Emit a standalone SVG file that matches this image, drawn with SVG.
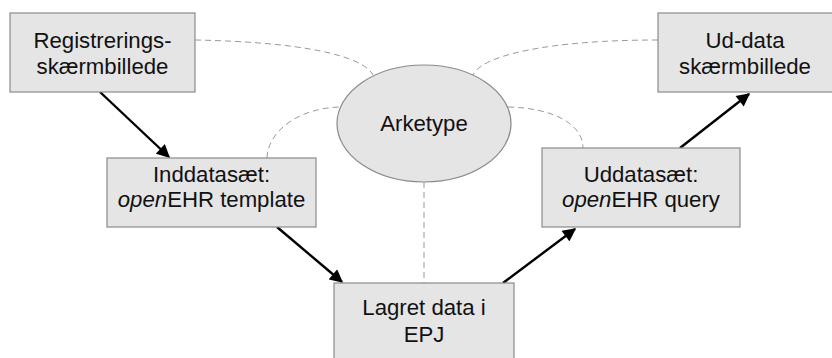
<svg xmlns="http://www.w3.org/2000/svg" width="832" height="358" viewBox="0 0 832 358">
<defs>
<style>
.box{fill:#e5e5e5;stroke:#8a8a8a;stroke-width:1.2}
.t{font-family:"Liberation Sans",Arial,sans-serif;font-size:22.2px;fill:#111;text-anchor:middle}
.d{fill:none;stroke:#9a9a9a;stroke-width:1;stroke-dasharray:6,4}
.a{fill:none;stroke:#000;stroke-width:2.4;marker-end:url(#ah)}
</style>
<marker id="ah" viewBox="0 0 10 10" refX="9" refY="5" markerWidth="6" markerHeight="5.5" orient="auto" markerUnits="strokeWidth">
<path d="M0,0 L10,5 L0,10 z" fill="#000"/>
</marker>
</defs>
<rect width="832" height="358" fill="#fff"/>
<g id="connectors">
<path class="d" d="M195,40 C300,42 362,55 373,75"/>
<path class="d" d="M658,40 C550,40 482,55 473,75"/>
<path class="d" d="M267,158 C268,130 300,108 340,107"/>
<path class="d" d="M508,107 C555,108 583,125 583,148"/>
<path class="d" d="M424,182 L424,283"/>
<path class="a" d="M100,92 L169,157"/>
<path class="a" d="M277,227 L342,282"/>
<path class="a" d="M503,283 L575,229"/>
<path class="a" d="M680,148 L749,94"/>
</g>
<g id="n-registrering">
<rect class="box" x="10" y="13" width="185" height="79"/>
<text class="t" x="102.5" y="48">Registrerings-</text>
<text class="t" x="102.5" y="74">skærmbillede</text>
</g>
<g id="n-uddata-skaerm">
<rect class="box" x="658" y="13" width="180" height="79"/>
<text class="t" x="745" y="48">Ud-data</text>
<text class="t" x="745" y="74">skærmbillede</text>
</g>
<g id="n-arketype">
<ellipse cx="424" cy="123.5" rx="87" ry="58.5" fill="#e5e5e5" stroke="#8a8a8a" stroke-width="1.2"/>
<text class="t" x="424" y="131">Arketype</text>
</g>
<g id="n-inddata">
<rect class="box" x="107" y="158" width="209" height="69"/>
<text class="t" x="211.5" y="182">Inddatasæt:</text>
<text class="t" x="211.5" y="207"><tspan font-style="italic">open</tspan>EHR template</text>
</g>
<g id="n-uddatasaet">
<rect class="box" x="542" y="148" width="198" height="79"/>
<text class="t" x="641" y="182">Uddatasæt:</text>
<text class="t" x="641" y="207"><tspan font-style="italic">open</tspan>EHR query</text>
</g>
<g id="n-lagret">
<rect class="box" x="334" y="283" width="180" height="80"/>
<text class="t" x="424" y="315">Lagret data i</text>
<text class="t" x="424" y="342">EPJ</text>
</g>
</svg>
